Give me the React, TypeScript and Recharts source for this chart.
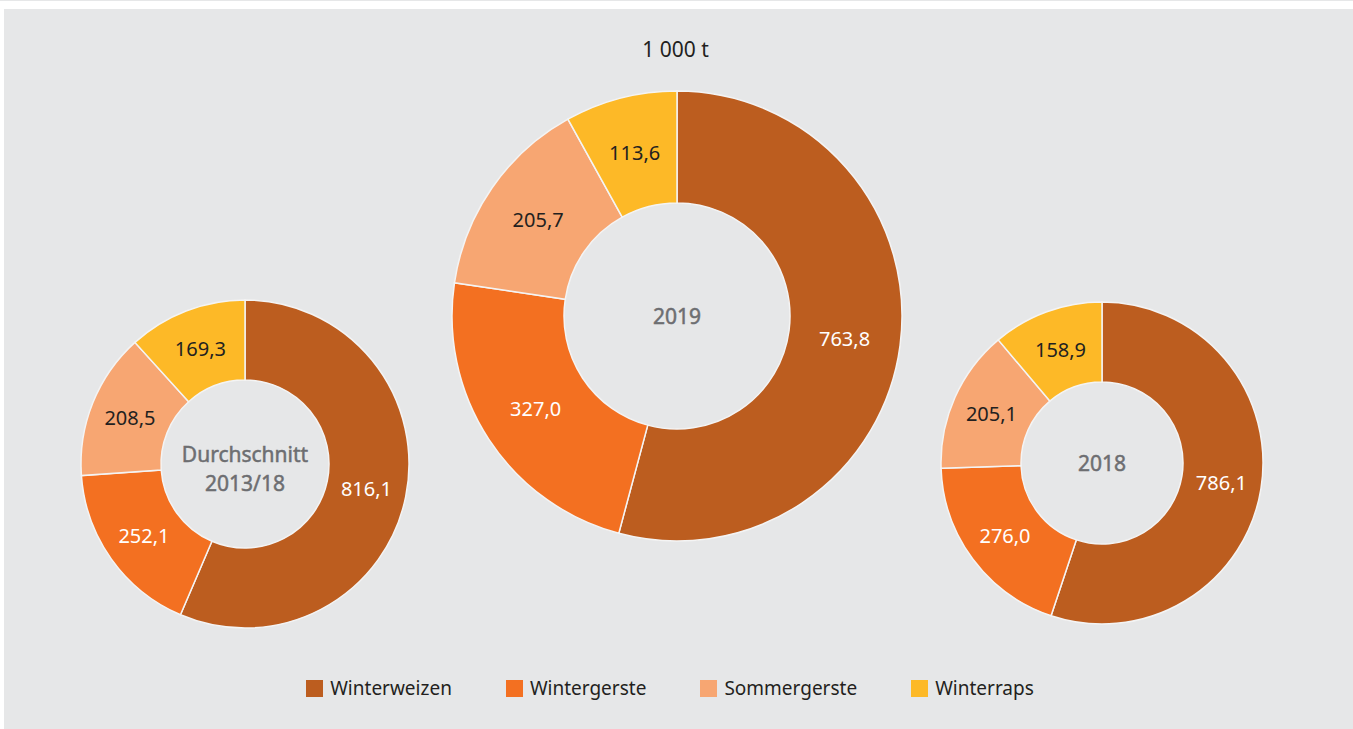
import { Cell, Legend, Pie, PieChart } from "recharts";

const categories = ["Winterweizen", "Wintergerste", "Sommergerste", "Winterraps"];
const colors = ["#bc5d1f", "#f37021", "#f7a672", "#fdb927"];
const labelColors = ["#ffffff", "#ffffff", "#231f20", "#231f20"];

const avgValues = [816.1, 252.1, 208.5, 169.3];
const values2019 = [763.8, 327.0, 205.7, 113.6];
const values2018 = [786.1, 276.0, 205.1, 158.9];

const unitLabel = "1 000 t";
const avgTitle = ["Durchschnitt", "2013/18"];
const title2019 = ["2019"];
const title2018 = ["2018"];

const FONT = "'Noto Sans', 'Open Sans', sans-serif";
const RAD = Math.PI / 180;

function toRows(values: number[]) {
  return categories.map((name, i) => ({ name, value: values[i] }));
}

function formatDe(v: number) {
  return v.toFixed(1).replace(".", ",");
}

// slice value in the middle of the ring; the first slice also draws the hole title
function sliceLabel(lines: string[]) {
  return (props: any) => {
    const { cx, cy, midAngle, innerRadius, outerRadius, value, index } = props;
    const r = (innerRadius + outerRadius) / 2;
    const x = cx + r * Math.cos(-midAngle * RAD);
    const y = cy + r * Math.sin(-midAngle * RAD);
    const lh = 29;
    const start = cy - ((lines.length - 1) * lh) / 2 + (lines.length > 1 ? 4 : 0);
    return (
      <g>
        <text
          x={x}
          y={y}
          fill={labelColors[index]}
          textAnchor="middle"
          dominantBaseline="central"
          fontSize={20}
          fontFamily={FONT}
        >
          {formatDe(value)}
        </text>
        {index === 0 &&
          lines.map((l, i) => (
            <text
              key={l}
              x={cx}
              y={start + i * lh}
              textAnchor="middle"
              dominantBaseline="central"
              fill="#6d6e71"
              stroke="#6d6e71"
              strokeWidth={0.5}
              fontSize={21}
              fontFamily={FONT}
            >
              {l}
            </text>
          ))}
      </g>
    );
  };
}

function LegendContent() {
  return (
    <div
      style={{
        display: "flex",
        justifyContent: "center",
        gap: 54,
        fontFamily: FONT,
        fontSize: 19,
        color: "#231f20",
      }}
    >
      {categories.map((c, i) => (
        <div key={c} style={{ display: "flex", alignItems: "center", gap: 7 }}>
          <span style={{ width: 17, height: 17, background: colors[i], display: "inline-block" }} />
          <span>{c}</span>
        </div>
      ))}
    </div>
  );
}

function Donut({ values, cx, cy, inner, outer, lines }: any) {
  return (
    <Pie
      key={lines[0]}
      data={toRows(values)}
      dataKey="value"
      nameKey="name"
      cx={cx}
      cy={cy}
      innerRadius={inner}
      outerRadius={outer}
      startAngle={90}
      endAngle={-270}
      stroke="#f4f4f4"
      strokeWidth={1.5}
      label={sliceLabel(lines)}
      labelLine={false}
      isAnimationActive={false}
    >
      {values.map((_: number, i: number) => (
        <Cell key={i} fill={colors[i]} />
      ))}
    </Pie>
  );
}

export default function App() {
  return (
    <div style={{ position: "absolute", left: 0, top: 0, width: 1353, height: 729, background: "#ffffff" }}>
      <div style={{ position: "absolute", left: 0, top: 0, width: 1353, height: 1, background: "#e6e7e8" }} />
      <div style={{ position: "absolute", left: 4, top: 9, right: 0, bottom: 0, background: "#e6e7e8" }} />
      <div
        style={{
          position: "absolute",
          left: 0,
          top: 35,
          width: 1353,
          textAlign: "center",
          fontFamily: FONT,
          fontSize: 21,
          color: "#231f20",
          paddingRight: 2,
          boxSizing: "border-box",
        }}
      >
        {unitLabel}
      </div>
      <div style={{ position: "absolute", left: 0, top: 0 }}>
        <PieChart width={1353} height={729} margin={{ top: 0, right: 0, bottom: 0, left: 0 }}>
          {Donut({ values: avgValues, cx: 245, cy: 464, inner: 84, outer: 164, lines: avgTitle })}
          {Donut({ values: values2019, cx: 677, cy: 316, inner: 113, outer: 225, lines: title2019 })}
          {Donut({ values: values2018, cx: 1102, cy: 463, inner: 81, outer: 161, lines: title2018 })}
          <Legend
            content={<LegendContent />}
            wrapperStyle={{ position: "absolute", left: 0, top: 675, width: 1340 }}
          />
        </PieChart>
      </div>
    </div>
  );
}
